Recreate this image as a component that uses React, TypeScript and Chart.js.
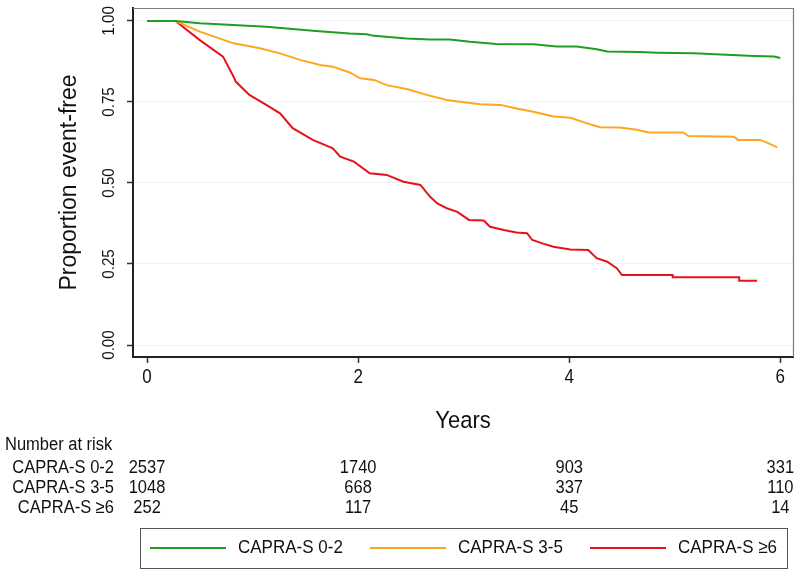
import React, { useEffect, useRef } from "react";
import { Chart, registerables } from "chart.js";

Chart.register(...registerables);

// ---- data ----
const greenTimes = [0, 0.27, 0.5, 1.13, 1.6, 1.92, 2.08, 2.15, 2.46, 2.68, 2.87, 3.06, 3.31, 3.66, 3.88, 4.07, 4.14, 4.26, 4.36, 4.67, 4.83, 5.18, 5.49, 5.75, 5.94, 6.0];
const greenSurv = [1.0, 1.0, 0.993, 0.982, 0.969, 0.961, 0.959, 0.954, 0.946, 0.943, 0.943, 0.936, 0.929, 0.928, 0.921, 0.921, 0.918, 0.913, 0.906, 0.904, 0.902, 0.9, 0.896, 0.892, 0.89, 0.886];

const orangeTimes = [0, 0.27, 0.5, 0.82, 1.07, 1.26, 1.45, 1.64, 1.76, 1.92, 2.02, 2.15, 2.27, 2.46, 2.65, 2.84, 3.0, 3.16, 3.35, 3.5, 3.66, 3.85, 4.01, 4.17, 4.29, 4.48, 4.64, 4.75, 5.08, 5.13, 5.56, 5.6, 5.81, 5.89, 5.97];
const orangeSurv = [1.0, 1.0, 0.967, 0.931, 0.916, 0.9, 0.88, 0.864, 0.859, 0.841, 0.823, 0.818, 0.802, 0.79, 0.772, 0.756, 0.749, 0.743, 0.741, 0.73, 0.72, 0.705, 0.701, 0.684, 0.672, 0.671, 0.664, 0.656, 0.656, 0.645, 0.643, 0.633, 0.633, 0.622, 0.61];

const redTimes = [0, 0.27, 0.5, 0.72, 0.82, 0.84, 0.97, 1.13, 1.26, 1.38, 1.57, 1.76, 1.83, 1.96, 2.11, 2.27, 2.43, 2.59, 2.68, 2.75, 2.84, 2.94, 3.05, 3.19, 3.25, 3.38, 3.5, 3.6, 3.65, 3.76, 3.85, 4.01, 4.18, 4.26, 4.36, 4.45, 4.5, 4.98, 4.98, 5.61, 5.61, 5.78];
const redSurv = [1.0, 1.0, 0.941, 0.89, 0.828, 0.813, 0.772, 0.741, 0.715, 0.669, 0.633, 0.607, 0.581, 0.566, 0.53, 0.525, 0.504, 0.494, 0.458, 0.437, 0.422, 0.411, 0.386, 0.384, 0.365, 0.355, 0.347, 0.345, 0.324, 0.312, 0.303, 0.295, 0.293, 0.268, 0.257, 0.237, 0.216, 0.216, 0.209, 0.209, 0.198, 0.198];

const groupLabels = ["CAPRA-S 0-2", "CAPRA-S 3-5", "CAPRA-S \u22656"];
const groupColors = ["#1f9e1f", "#ffa51f", "#e5131b"];
const xTickValues = [0, 2, 4, 6];
const yTickValues = [0, 0.25, 0.5, 0.75, 1.0];
const riskTimes = [0, 2, 4, 6];
const risk02 = [2537, 1740, 903, 331];
const risk35 = [1048, 668, 337, 110];
const risk6 = [252, 117, 45, 14];
const riskRows = [risk02, risk35, risk6];

const FONT = "'Liberation Sans', Arial, Helvetica, sans-serif";
const VSTRETCH = 1.1;

const toPoints = (t: number[], s: number[]) => t.map((x, i) => ({ x, y: s[i] }));

function hText(ctx: any, text: string, x: number, y: number, align: string, size: number, stretch = VSTRETCH) {
  ctx.save();
  ctx.font = `${size}px ${FONT}`;
  ctx.textAlign = align;
  ctx.textBaseline = "middle";
  ctx.translate(x, y);
  ctx.scale(1, stretch);
  ctx.fillText(text, 0, 0);
  ctx.restore();
}

function vText(ctx: any, text: string, x: number, y: number, size: number, along = 1, across = 1) {
  ctx.save();
  ctx.font = `${size}px ${FONT}`;
  ctx.textAlign = "center";
  ctx.textBaseline = "middle";
  ctx.translate(x, y);
  ctx.rotate(-Math.PI / 2);
  ctx.scale(along, across);
  ctx.fillText(text, 0, 0);
  ctx.restore();
}

const decorPlugin = {
  id: "decor",
  afterDraw(chart: any) {
    const { ctx, chartArea } = chart;
    const xs = chart.scales.x;
    const ys = chart.scales.y;
    ctx.save();
    // frame top / right
    ctx.strokeStyle = "#7a7a7a";
    ctx.lineWidth = 1.2;
    ctx.beginPath();
    ctx.moveTo(chartArea.left, chartArea.top + 0.5);
    ctx.lineTo(chartArea.right + 0.5, chartArea.top + 0.5);
    ctx.lineTo(chartArea.right + 0.5, chartArea.bottom);
    ctx.stroke();

    ctx.fillStyle = "#111";
    // y tick labels rotated
    ys.ticks.forEach((tk: any) => {
      vText(ctx, tk.value.toFixed(2), 110, ys.getPixelForValue(tk.value), 16, 0.95, 1);
    });
    // x tick labels
    xs.ticks.forEach((tk: any) => {
      hText(ctx, String(tk.value), xs.getPixelForValue(tk.value), 378, "center", 17, 1.15);
    });

    // y title
    vText(ctx, "Proportion event-free", 70, (chartArea.top + chartArea.bottom) / 2, 23, 1, 1);

    // x title
    hText(ctx, "Years", (chartArea.left + chartArea.right) / 2, 421, "center", 22, 1.08);

    // risk table
    hText(ctx, "Number at risk", 5, 445, "left", 16.5);
    const rowY = [468, 488, 508];
    riskRows.forEach((row, r) => {
      hText(ctx, groupLabels[r], 114, rowY[r], "right", 16.5);
      row.forEach((n, i) => {
        hText(ctx, String(n), xs.getPixelForValue(riskTimes[i]), rowY[r], "center", 16.5);
      });
    });

    // legend box
    ctx.strokeStyle = "#555";
    ctx.lineWidth = 1;
    ctx.strokeRect(140.5, 528.5, 647, 40);
    const lineX = [150, 370, 590];
    groupLabels.forEach((lab, i) => {
      ctx.strokeStyle = groupColors[i];
      ctx.lineWidth = 2;
      ctx.beginPath();
      ctx.moveTo(lineX[i], 548);
      ctx.lineTo(lineX[i] + 76, 548);
      ctx.stroke();
      ctx.fillStyle = "#111";
      hText(ctx, lab, lineX[i] + 88, 548, "left", 17);
    });
    ctx.restore();
  },
};

export default function App() {
  const ref = useRef<HTMLCanvasElement>(null);
  useEffect(() => {
    if (!ref.current) return;
    Chart.defaults.font.family = FONT;
    const chart = new Chart(ref.current, {
      type: "line",
      data: {
        datasets: [
          { label: groupLabels[0], data: toPoints(greenTimes, greenSurv), borderColor: groupColors[0], backgroundColor: groupColors[0] },
          { label: groupLabels[1], data: toPoints(orangeTimes, orangeSurv), borderColor: groupColors[1], backgroundColor: groupColors[1] },
          { label: groupLabels[2], data: toPoints(redTimes, redSurv), borderColor: groupColors[2], backgroundColor: groupColors[2] },
        ],
      },
      options: {
        animation: false,
        responsive: false,
        parsing: false as any,
        layout: { padding: { left: 0, right: 7, top: 8, bottom: 0 } },
        elements: { point: { radius: 0 }, line: { borderWidth: 2, tension: 0 } },
        plugins: { legend: { display: false }, tooltip: { enabled: false } },
        scales: {
          x: {
            type: "linear",
            min: -0.133,
            max: 6.12,
            afterBuildTicks: (s: any) => { s.ticks = xTickValues.map((v) => ({ value: v })); },
            afterFit: (s: any) => { s.height = 218; },
            ticks: { display: false },
            grid: { drawOnChartArea: false, tickColor: "#333", tickLength: 6, tickWidth: 1.5 },
            border: { color: "#222", width: 2 },
          },
          y: {
            type: "linear",
            min: -0.037,
            max: 1.04,
            afterBuildTicks: (s: any) => { s.ticks = yTickValues.map((v) => ({ value: v })); },
            afterFit: (s: any) => { s.width = 133; },
            ticks: { display: false },
            grid: { color: "#ecf2f4", lineWidth: 1, tickColor: "#333", tickLength: 6, tickWidth: 1.5 },
            border: { color: "#222", width: 2 },
          },
        },
      },
      plugins: [decorPlugin],
    });
    return () => chart.destroy();
  }, []);
  return (
    <canvas
      ref={ref}
      width={800}
      height={575}
      style={{ position: "fixed", left: 0, top: 0, width: 800, height: 575, display: "block", background: "#fff" }}
    />
  );
}
